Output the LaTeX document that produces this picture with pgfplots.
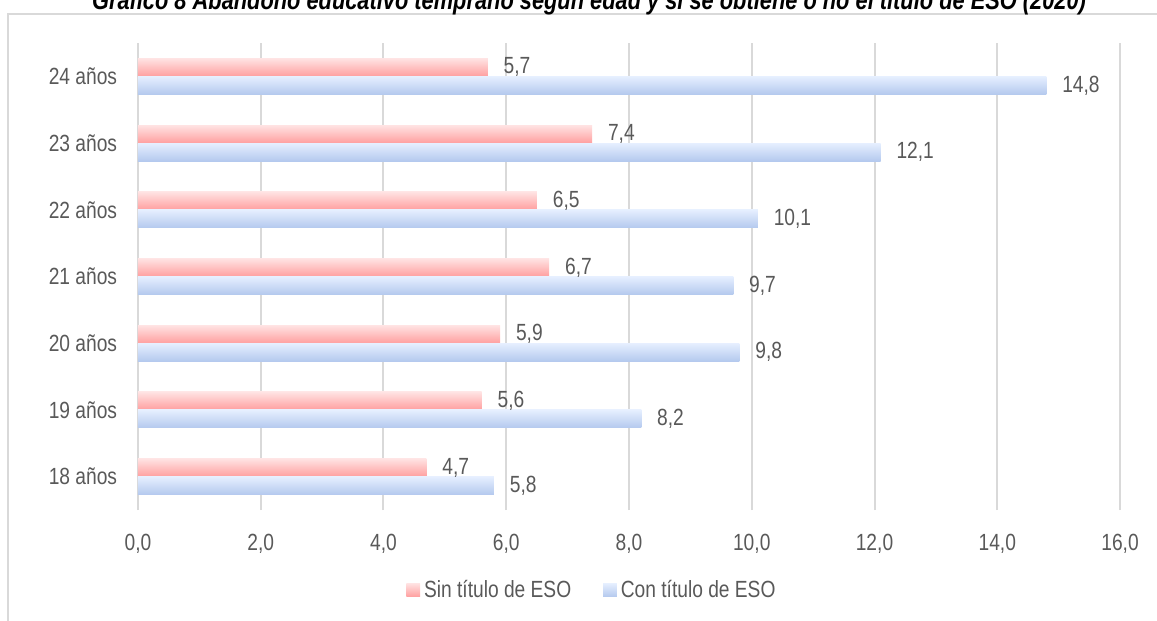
\documentclass[border=0pt]{standalone}
\usepackage{pgfplots}
\pgfplotsset{compat=1.18}
\usepackage{fontspec}
\setmainfont{Liberation Sans}
\newfontfamily\narrow{Liberation Sans}[FakeStretch=0.82]
\definecolor{txt}{HTML}{595959}
\definecolor{gridc}{HTML}{D9D9D9}
\definecolor{pinkT}{HTML}{FFE3E3}
\definecolor{pinkB}{HTML}{FF9F9F}
\definecolor{blueT}{HTML}{E6EFFF}
\definecolor{blueB}{HTML}{B4C9EE}
\newcommand{\lab}{\narrow\fontsize{11.7pt}{14pt}\selectfont}
\begin{document}
\begin{tikzpicture}
\begin{axis}[
  at={(0pt,0pt)}, anchor=south west,
  scale only axis, width=491pt, height=233.5pt,
  xbar, bar width=9pt,
  xmin=0, xmax=16, ymin=-0.5, ymax=6.5,
  xtick={0,2,...,16}, ytick={0,...,6},
  yticklabels={18 años,19 años,20 años,21 años,22 años,23 años,24 años},
  axis line style={draw=none}, tick style={draw=none},
  major x grid style={gridc, line width=1pt},
  xmajorgrids=true, ymajorgrids=false,
  /pgf/number format/.cd, use comma, fixed, fixed zerofill, precision=1, assume math mode=true,
  /pgfplots/.cd,
  xticklabel style={anchor=base, yshift=-20pt, inner sep=0pt, font=\lab, text=txt},
  yticklabel style={anchor=east, xshift=-6pt, inner sep=0pt, font=\lab, text=txt},
  nodes near coords,
  every node near coord/.append style={anchor=west, inner sep=0pt, xshift=7.75pt, font=\lab, text=txt},
  clip=false,
  legend columns=2,
  legend style={at={(0.4633,-0.1713)}, anchor=center, draw=none, fill=none, font=\lab, text=txt,
    /tikz/every even column/.append style={column sep=14pt}},
  legend cell align=left,
  sinbar/.style={draw=none, top color=pinkT, bottom color=pinkB, bar shift=4.5pt, forget plot},
  conbar/.style={draw=none, top color=blueT, bottom color=blueB, bar shift=-4.5pt, forget plot},
]
\addlegendimage{legend image code/.code={\path[draw=none, top color=pinkT, bottom color=pinkB] (0pt,-3.4pt) rectangle (6.8pt,3.4pt);}}
\addlegendentry{Sin título de ESO}
\addlegendimage{legend image code/.code={\path[draw=none, top color=blueT, bottom color=blueB] (0pt,-3.4pt) rectangle (6.8pt,3.4pt);}}
\addlegendentry{Con título de ESO}
% Sin título de ESO
\addplot[sinbar] coordinates {(4.7,0)};
\addplot[sinbar] coordinates {(5.6,1)};
\addplot[sinbar] coordinates {(5.9,2)};
\addplot[sinbar] coordinates {(6.7,3)};
\addplot[sinbar] coordinates {(6.5,4)};
\addplot[sinbar] coordinates {(7.4,5)};
\addplot[sinbar] coordinates {(5.7,6)};
% Con título de ESO
\addplot[conbar] coordinates {(5.8,0)};
\addplot[conbar] coordinates {(8.2,1)};
\addplot[conbar] coordinates {(9.8,2)};
\addplot[conbar] coordinates {(9.7,3)};
\addplot[conbar] coordinates {(10.1,4)};
\addplot[conbar] coordinates {(12.1,5)};
\addplot[conbar] coordinates {(14.8,6)};
\end{axis}
\draw[gridc, line width=0.75pt] (-65pt,-60pt) -- (-65pt,248pt) -- (515pt,248pt);
\node[anchor=base, inner sep=0pt, font=\narrow\fontsize{13.3pt}{16pt}\selectfont\bfseries\itshape] at (225.5pt,250.35pt)
  {Gráfico 8 Abandono educativo temprano según edad y si se obtiene o no el título de ESO (2020)};
\pgfresetboundingbox
\useasboundingbox (-69pt,-55.5pt) rectangle (509.5pt,255pt);
\end{tikzpicture}
\end{document}
